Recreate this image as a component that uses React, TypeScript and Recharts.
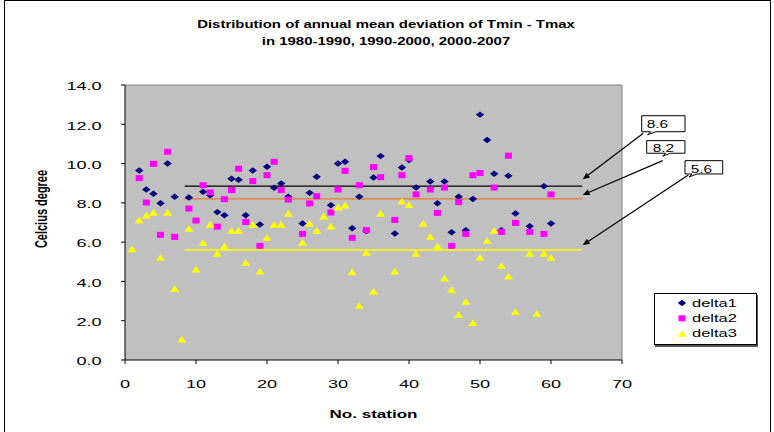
import React from "react";
import {
  ScatterChart,
  Scatter,
  XAxis,
  YAxis,
  CartesianGrid,
  ReferenceLine,
  ReferenceDot,
  Legend,
} from "recharts";

document.body.style.margin = "0";

const FONT = '"Liberation Sans", Arial, sans-serif';
const SX = 1.65; // the reference is stretched sideways

const stations = [
  1, 2, 3, 4, 5, 6, 7, 8, 9, 10, 11, 12, 13, 14, 15, 16, 17, 18, 19, 20,
  21, 22, 23, 24, 25, 26, 27, 28, 29, 30, 31, 32, 33, 34, 35, 36, 37, 38, 39, 40,
  41, 42, 43, 44, 45, 46, 47, 48, 49, 50, 51, 52, 53, 54, 55, 56, 57, 58, 59, 60,
];

const delta1 = [
  null, 9.65, 8.68, 8.46, 7.98, 10.0, 8.31, null, 8.27, null,
  8.56, 8.39, 7.53, 7.37, 9.23, 9.18, 7.37, 9.65, 6.9, 9.84,
  8.77, 8.99, 8.31, null, 6.95, 8.51, 9.33, null, 7.88, 10.0,
  10.09, 6.71, 8.31, 6.57, 9.29, 10.38, null, 6.44, 9.8, 10.18,
  8.78, null, 9.09, 7.98, 9.09, 6.5, 8.31, 6.61, 8.2, 12.49,
  11.2, 9.48, 6.61, 9.38, 7.46, null, 6.81, null, 8.85, 6.95,
];

const delta2 = [
  null, 9.26, 8.02, 9.99, 6.37, 10.6, 6.27, null, 7.71, 7.1,
  8.9, 8.53, 6.79, 8.19, 8.65, 9.74, 7.03, 9.11, 5.81, 9.41,
  10.09, 8.65, 8.17, null, 6.42, 7.97, 8.34, null, 7.51, 8.68,
  9.63, 6.22, 8.9, 6.61, 9.82, 9.31, null, 7.13, 9.41, 10.28,
  8.43, null, 8.68, 7.49, 8.78, 5.81, 8.04, 6.42, 9.41, 9.52,
  null, 8.78, 6.52, 10.4, 6.98, null, 6.52, null, 6.42, 8.43,
];

const delta3 = [
  5.65, 7.12, 7.37, 7.51, 5.21, 7.51, 3.63, 1.06, 6.69, 4.62,
  5.98, 6.9, 5.42, 5.79, 6.59, 6.59, 4.96, 6.9, 4.51, 6.23,
  6.9, 6.9, 7.46, null, 5.98, 6.95, 6.59, 7.32, 6.81, 7.78,
  7.88, 4.48, 2.77, 5.47, 3.49, 7.46, null, 4.51, 8.09, 7.9,
  5.42, 6.95, 6.28, 5.79, 4.16, 3.58, 2.31, 2.97, 1.9, 5.21,
  6.08, 6.59, 4.79, 4.26, 2.46, null, 5.42, 2.36, 5.42, 5.21,
];

const xTicks = [0, 10, 20, 30, 40, 50, 60, 70];
const yTicks = [0, 2, 4, 6, 8, 10, 12, 14];

// mean lines and their callouts
const meanValues = [8.85, 8.2, 5.6];
const meanLabels = ["8.6", "8.2", "5.6"];
const meanColors = ["#000000", "#E8782E", "#FFFF00"];
const meanFrom = 8.4;
const meanTo = 64.4;
const tipX = 64.46;
const tipY = [9.2, 8.4, 5.85];
const tailX = [73.0, 75.73, 79.34];
const tailY = [11.54, 10.15, 9.42];
// box geometry relative to the arrow tail, px
const boxes = [
  { dx: -1.6, dy: -17.6, w: 43.3, h: 16, tx: 3.4, ty: -5.3, notch: 4 },
  { dx: -16, dy: -20, w: 38.3, h: 12.6, tx: -10, ty: -9, notch: 14 },
  { dx: -3.3, dy: -14.3, w: 37.7, h: 13.3, tx: 2.4, ty: -2.3, notch: 2 },
];

const toPoints = (vals: (number | null)[]) =>
  stations
    .map((s, i) => ({ x: s, y: vals[i] }))
    .filter((p) => p.y !== null);

const Diamond = (p: any) => (
  <polygon
    points={`${p.cx - 4.2},${p.cy} ${p.cx},${p.cy - 3.2} ${p.cx + 4.2},${p.cy} ${p.cx},${p.cy + 3.2}`}
    fill="#000080"
  />
);
const Square = (p: any) => (
  <rect x={p.cx - 3.5} y={p.cy - 3} width={7} height={6} fill="#FF00FF" />
);
const Triangle = (p: any) => (
  <polygon
    points={`${p.cx - 4.5},${p.cy + 3.2} ${p.cx},${p.cy - 3.4} ${p.cx + 4.5},${p.cy + 3.2}`}
    fill="#FFFF00"
  />
);

const Arrow = (p: any) => {
  const { x1, y1, x2, y2 } = p;
  const a = Math.atan2(y2 - y1, x2 - x1);
  const bx = x2 - 7 * Math.cos(a);
  const by = y2 - 7 * Math.sin(a);
  const px = -Math.sin(a) * 3;
  const py = Math.cos(a) * 3;
  return (
    <g>
      <line x1={x1} y1={y1} x2={bx} y2={by} stroke="#000" strokeWidth={1.2} />
      <polygon points={`${x2},${y2} ${bx + px},${by + py} ${bx - px},${by - py}`} fill="#000" />
    </g>
  );
};

const makeBox = (i: number) => (p: any) => {
  const b = boxes[i];
  const l = p.cx + b.dx;
  const t = p.cy + b.dy;
  const r = l + b.w;
  const bt = t + b.h;
  const n = l + b.notch;
  return (
    <g>
      <path
        d={`M${l},${t} H${r} V${bt} H${n + 10} L${n + 2},${bt + 3} L${n + 5},${bt} H${l} Z`}
        fill="#fff"
        stroke="#000"
        strokeWidth={1}
      />
      <text
        transform={`translate(${p.cx + b.tx},${p.cy + b.ty}) scale(1.4,1)`}
        fontFamily={FONT}
        fontSize={11}
        fill="#000"
      >
        {meanLabels[i]}
      </text>
    </g>
  );
};

const XTick = (p: any) => (
  <text
    transform={`translate(${p.x},${p.y + 22}) scale(${SX},1)`}
    textAnchor="middle"
    fontFamily={FONT}
    fontSize={11}
    fill="#000"
  >
    {p.payload.value}
  </text>
);

const YTick = (p: any) => (
  <text
    transform={`translate(${p.x - 17.3},${p.y + 5.3}) scale(${SX},1)`}
    textAnchor="end"
    fontFamily={FONT}
    fontSize={11}
    fill="#000"
  >
    {Number(p.payload.value).toFixed(1)}
  </text>
);

const legendItems = [
  { name: "delta1", shape: Diamond },
  { name: "delta2", shape: Square },
  { name: "delta3", shape: Triangle },
];

const LegendBox = () => (
  <div
    style={{
      width: 103,
      height: 52,
      border: "1px solid #000",
      boxSizing: "border-box",
      background: "#fff",
      boxShadow: "1px 2px 0 #555",
    }}
  >
    <svg width={101} height={50}>
      {legendItems.map((it, i) => (
        <g key={it.name}>
          {it.shape({ cx: 27, cy: 9 + i * 15.3 })}
          <text
            transform={`translate(37,${12.8 + i * 15.3}) scale(1.5,1)`}
            fontFamily={FONT}
            fontSize={11}
            fill="#000"
          >
            {it.name}
          </text>
        </g>
      ))}
    </svg>
  </div>
);

export default function App() {
  return (
    <div style={{ position: "relative", width: 774, height: 432, overflow: "hidden", background: "#fff" }}>
      <svg
        width={774}
        height={432}
        style={{ position: "absolute", left: 0, top: 0, pointerEvents: "none" }}
      >
        <rect x={4.5} y={0.5} width={766} height={460} fill="none" stroke="#000" strokeWidth={1} />
        <text
          transform="translate(386,27.7) scale(1.3,1)"
          textAnchor="middle"
          fontFamily={FONT}
          fontWeight="bold"
          fontSize={11.5}
          fill="#000"
        >
          Distribution of annual mean deviation of Tmin - Tmax
        </text>
        <text
          transform="translate(386,45.3) scale(1.3,1)"
          textAnchor="middle"
          fontFamily={FONT}
          fontWeight="bold"
          fontSize={11.5}
          fill="#000"
        >
          in 1980-1990, 1990-2000, 2000-2007
        </text>
      </svg>
      <div style={{ position: "absolute", left: 0, top: 0 }}>
        <ScatterChart width={774} height={432} margin={{ top: 85, right: 152, bottom: 42, left: 5 }}>
          <CartesianGrid fill="#C0C0C0" horizontal={false} vertical={false} />
          <XAxis
            type="number"
            dataKey="x"
            domain={[0, 70]}
            ticks={xTicks}
            height={30}
            tickSize={4}
            tickMargin={2}
            axisLine={{ stroke: "#000" }}
            tickLine={{ stroke: "#000" }}
            tick={XTick}
            label={{
              content: (props: any) => {
                const vb = props.viewBox;
                return (
                  <text
                    transform={`translate(${vb.x + vb.width / 2},${vb.y + 58}) scale(1.55,1)`}
                    textAnchor="middle"
                    fontFamily={FONT}
                    fontWeight="bold"
                    fontSize={11}
                    fill="#000"
                  >
                    No. station
                  </text>
                );
              },
            }}
          />
          <YAxis
            type="number"
            dataKey="y"
            domain={[0, 14]}
            ticks={yTicks}
            width={120}
            tickSize={4}
            tickMargin={2}
            axisLine={{ stroke: "#000" }}
            tickLine={{ stroke: "#000" }}
            tick={YTick}
            label={{
              content: (props: any) => {
                const vb = props.viewBox;
                return (
                  <text
                    transform={`translate(${vb.x + 36.5},${vb.y + vb.height / 2 - 13.5}) scale(1.45,1) rotate(-90)`}
                    textAnchor="middle"
                    dy="0.35em"
                    fontFamily={FONT}
                    fontWeight="bold"
                    fontSize={11}
                    fill="#000"
                  >
                    Celcius degree
                  </text>
                );
              },
            }}
          />
          <ReferenceLine y={14} stroke="#808080" />
          <ReferenceLine x={70} stroke="#808080" />
          {meanValues.map((v, i) => (
            <ReferenceLine
              key={"m" + i}
              segment={[
                { x: meanFrom, y: v },
                { x: meanTo, y: v },
              ]}
              stroke={meanColors[i]}
              strokeWidth={1.3}
            />
          ))}
          {meanValues.map((v, i) => (
            <ReferenceLine
              key={"a" + i}
              segment={[
                { x: tailX[i], y: tailY[i] },
                { x: tipX, y: tipY[i] },
              ]}
              ifOverflow="visible"
              shape={Arrow}
            />
          ))}
          {meanValues.map((v, i) => (
            <ReferenceDot
              key={"b" + i}
              x={tailX[i]}
              y={tailY[i]}
              ifOverflow="visible"
              shape={makeBox(i)}
            />
          ))}
          <Scatter name="delta1" data={toPoints(delta1)} shape={Diamond} isAnimationActive={false} />
          <Scatter name="delta2" data={toPoints(delta2)} shape={Square} isAnimationActive={false} />
          <Scatter name="delta3" data={toPoints(delta3)} shape={Triangle} isAnimationActive={false} />
          <Legend
            layout="horizontal"
            verticalAlign="middle"
            align="center"
            content={LegendBox}
            wrapperStyle={{ left: 654, top: 293, width: 103, height: 52 }}
          />
        </ScatterChart>
      </div>
    </div>
  );
}
